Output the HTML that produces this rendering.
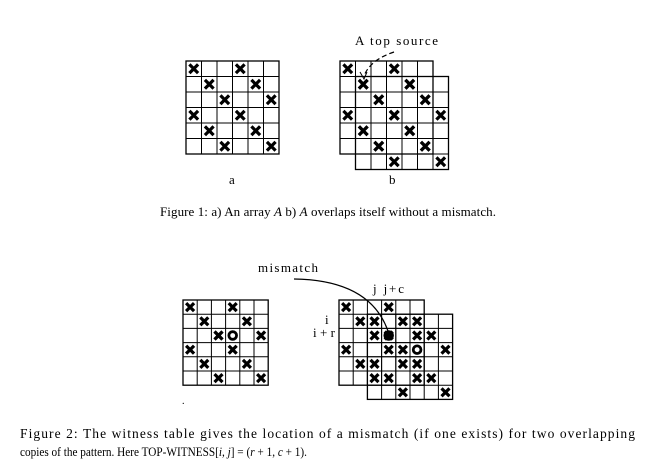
<!DOCTYPE html>
<html><head><meta charset="utf-8"><style>
body{margin:0;background:#fff}
svg text{font-family:"Liberation Serif",serif;fill:#000}
</style></head><body>
<svg id="fig" width="654" height="467" viewBox="0 0 654 467" xmlns="http://www.w3.org/2000/svg">
<g id="marks"></g>
<text x="355" y="45" font-size="13" textLength="83" lengthAdjust="spacing">A top source</text>
<path d="M394,52 Q370,60 364,76" fill="none" stroke="#000" stroke-width="1.2" stroke-dasharray="5,3"/>
<path d="M360,72 L364,79 L367,72" fill="none" stroke="#000" stroke-width="1"/>
<text x="229" y="184" font-size="13">a</text>
<text x="389" y="184" font-size="13">b</text>
<text x="160" y="216" font-size="13" textLength="336" lengthAdjust="spacing">Figure 1: a) An array <tspan font-style="italic">A</tspan>   b) <tspan font-style="italic">A</tspan> overlaps itself without a mismatch.</text>
<text x="258" y="272" font-size="13" textLength="60" lengthAdjust="spacing">mismatch</text>
<path d="M294,279 Q370,280 388,331" fill="none" stroke="#000" stroke-width="1.2"/>
<text x="373" y="293" font-size="13" textLength="31" lengthAdjust="spacing">j j+c</text>
<text x="325" y="324" font-size="13">i</text>
<text x="313" y="337" font-size="13" textLength="22" lengthAdjust="spacing">i+r</text>
<text x="182" y="404" font-size="10">.</text>
<text x="20" y="438" font-size="13.5" textLength="615" lengthAdjust="spacing">Figure 2:  The witness table gives the location of a mismatch (if one exists) for two overlapping</text>
<text x="20" y="456" font-size="13" textLength="287" lengthAdjust="spacingAndGlyphs">copies of the pattern. Here TOP-WITNESS[<tspan font-style="italic">i, j</tspan>] = (<tspan font-style="italic">r</tspan> + 1, <tspan font-style="italic">c</tspan> + 1).</text>
</svg>
<script>
const patternRows=[0,0,1,1,2,2,3,3,4,4,5,5];
const patternCols=[0,3,1,4,2,5,0,3,1,4,2,5];
const pattern2Rows=[0,0,1,1,2,2,3,3,4,4,5,5];
const pattern2Cols=[0,3,1,4,2,5,0,3,1,4,2,5];
const circleRow=2, circleCol=3;
const NS="http://www.w3.org/2000/svg";
const root=document.getElementById('marks');
function el(t,a){const e=document.createElementNS(NS,t);for(const k in a)e.setAttribute(k,a[k]);root.appendChild(e);return e;}
function grid(x0,y0,cs,name){
  const r=el('rect',{x:x0,y:y0,width:cs*6,height:cs*6,fill:'none',stroke:'#000','stroke-width':1.3});
  
  
  for(let i=1;i<6;i++){
    el('line',{x1:x0+i*cs,y1:y0,x2:x0+i*cs,y2:y0+6*cs,stroke:'#000','stroke-width':1});
    el('line',{x1:x0,y1:y0+i*cs,x2:x0+6*cs,y2:y0+i*cs,stroke:'#000','stroke-width':1});
  }
}
function xmark(x0,y0,cs,r,c){
  const cx=x0+(c+0.5)*cs, cy=y0+(r+0.5)*cs, h=cs*0.28;
  const p=el('path',{d:`M${cx-h},${cy-h}L${cx+h},${cy+h}M${cx+h},${cy-h}L${cx-h},${cy+h}`,stroke:'#000','stroke-width':3.2,fill:'none'});
  
  
}
function omark(x0,y0,cs,r,c,fill){
  const o=el('circle',{cx:x0+(c+0.5)*cs,cy:y0+(r+0.5)*cs,r:cs*0.27,stroke:'#000','stroke-width':2.8,fill:fill?'#000':'none'});
  
  
}
function pat(x0,y0,cs,rows,cols){for(let i=0;i<rows.length;i++)xmark(x0,y0,cs,rows[i],cols[i]);}
const c1=15.5;
grid(186,61,c1,'grid-a');pat(186,61,c1,patternRows,patternCols);
grid(340,61,c1,'grid-b-first');grid(340+c1,61+c1,c1,'grid-b-second');
pat(340,61,c1,patternRows,patternCols);pat(340+c1,61+c1,c1,patternRows,patternCols);
const c2=14.2;
function pat2(x0,y0){for(let i=0;i<pattern2Rows.length;i++){if(pattern2Rows[i]===circleRow&&pattern2Cols[i]===circleCol)continue;xmark(x0,y0,c2,pattern2Rows[i],pattern2Cols[i]);}}
grid(183,300,c2,'grid-left');pat2(183,300);xmark(183,300,c2,circleRow,circleCol-1);omark(183,300,c2,circleRow,circleCol,false);
grid(339,300,c2,'grid-right-first');grid(339+2*c2,300+c2,c2,'grid-right-second');
pat2(339,300);pat2(339+2*c2,300+c2);
omark(339,300,c2,circleRow,circleCol,true);
omark(339+2*c2,300+c2,c2,circleRow,circleCol,false);
</script>
</body></html>
